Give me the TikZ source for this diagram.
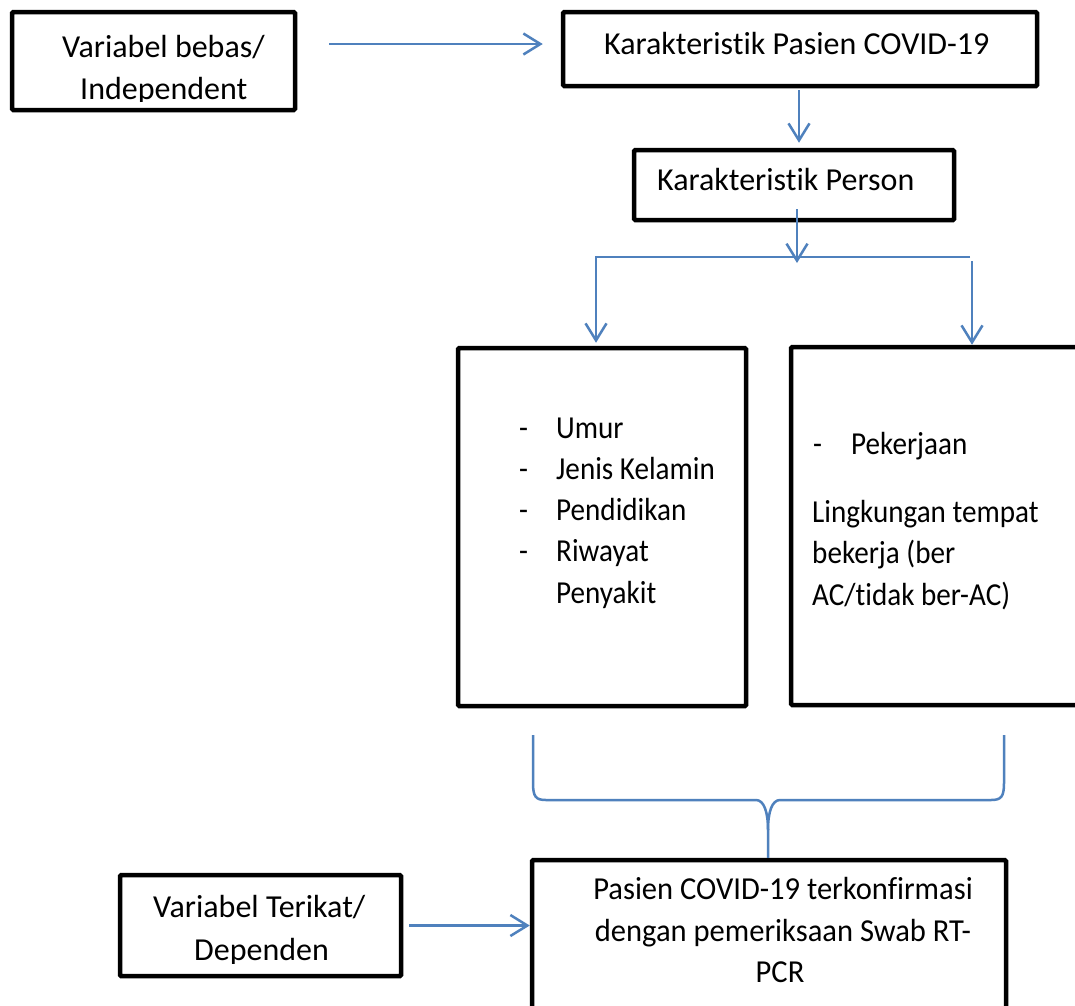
\documentclass[tikz,border=0pt]{standalone}
\usepackage{fontspec}
\setmainfont{Carlito}[Ligatures=NoCommon, RawFeature={-liga;-clig;-dlig;-calt}]
\newfontfamily\narrowfont{Carlito}[FakeStretch=0.91, Ligatures=NoCommon, RawFeature={-liga;-clig;-dlig;-calt}]
\newfontfamily\semifont{Carlito}[FakeStretch=0.955, Ligatures=NoCommon, RawFeature={-liga;-clig;-dlig;-calt}]
\usetikzlibrary{arrows.meta}
\definecolor{lineblue}{RGB}{79,129,189}
\tikzset{
  box/.style={draw=black, line width=4.5pt, rounded corners=1.2pt, inner sep=0pt},
  txt/.style={anchor=base west, inner sep=0pt, font=\fontsize{32}{40}\selectfont},
  ntxt/.style={anchor=base west, inner sep=0pt, font=\narrowfont\fontsize{32}{40}\selectfont},
  sctxt/.style={anchor=base, inner sep=0pt, font=\semifont\fontsize{32}{40}\selectfont},
  conn/.style={draw=lineblue, line width=2.5pt, -{Straight Barb[length=17pt,width=21pt,line width=2.5pt]}},
  plain/.style={draw=lineblue, line width=2.5pt},
}
\begin{document}
\begin{tikzpicture}[x=1pt,y=-1pt]
\clip (0,0) rectangle (1075,1005);
\fill[white] (0,0) rectangle (1075,1005);

% boxes
\node[box, minimum width=283pt, minimum height=98pt] (b1) at (153.5,61) {};
\node[box, minimum width=474pt, minimum height=74pt] (b2) at (800,49) {};
\node[box, minimum width=320pt, minimum height=70pt] (b3) at (794,185) {};
\node[box, minimum width=288pt, minimum height=358pt] (b4) at (602,527) {};
\node[box, minimum width=319pt, minimum height=358pt] (b5) at (950.5,526) {};
\node[box, minimum width=474pt, minimum height=200pt] (b6) at (769,960) {};
\node[box, minimum width=281pt, minimum height=101pt] (b7) at (260.5,925.5) {};

% texts
\node[txt] (t1a) at (62,57) {Variabel bebas/};
\begin{scope}
  \clip (0,0) rectangle (1075,101);
  \node[txt] (t1b) at (80,99) {Independent};
\end{scope}
\node[txt] (t2) at (604,54) {Karakteristik Pasien COVID-19};
\node[txt] (t3) at (657,190) {Karakteristik Person};

\node[ntxt] (d1) at (519,438) {-};
\node[ntxt] (l1) at (556,438) {Umur};
\node[ntxt] (d2) at (519,479) {-};
\node[ntxt] (l2) at (556,479) {Jenis Kelamin};
\node[ntxt] (d3) at (519,520) {-};
\node[ntxt] (l3) at (556,520) {Pendidikan};
\node[ntxt] (d4) at (519,561) {-};
\node[ntxt] (l4) at (556,561) {Riwayat};
\node[ntxt] (l5) at (556,603) {Penyakit};

\node[ntxt] (d5) at (813,454) {-};
\node[ntxt] (r1) at (851,454) {Pekerjaan};
\node[ntxt] (r2) at (812,522) {Lingkungan tempat};
\node[ntxt] (r3) at (812,563) {bekerja (ber};
\node[ntxt] (r4) at (812,605) {AC/tidak ber-AC)};

\node[sctxt] (p1) at (783,899) {Pasien COVID-19 terkonfirmasi};
\node[sctxt] (p2) at (783,941) {dengan pemeriksaan Swab RT-};
\node[sctxt] (p3) at (780,982) {PCR};

\node[txt] (v1) at (153,917) {Variabel Terikat/};
\begin{scope}
  \clip (0,0) rectangle (1075,963);
  \node[txt] (v2) at (194,960) {Dependen};
\end{scope}

% connectors
\draw[conn] ([xshift=32pt,yshift=17pt]b1.east) -- ([xshift=-18pt,yshift=5pt]b2.west);
\draw[conn] ([xshift=-1pt,yshift=-2pt]b2.south) -- ([xshift=5pt,yshift=5pt]b3.north);
\coordinate (fork) at (797,257);
\coordinate (fl) at (596,257);
\coordinate (fr) at (970,257);
\coordinate (frd) at (972,261);
\draw[conn] ([xshift=3pt,yshift=13pt]b3.south) -- ([yshift=-6pt]fork);
\draw[conn, shorten >=3pt] (fr) -- (fl) -- (fl |- b4.north);
\draw[conn] (frd) -- (frd |- b5.north);
\draw[conn] ([xshift=6pt]b7.east) -- (b7.east -| b6.west);

% brace
\coordinate (brL) at (533,735);
\coordinate (brR) at (1004,735);
\coordinate (brM) at (768,830);
\draw[plain] (brL) -- (533,783) .. controls (533,797) and (536,800) .. (546,800) -- (756,800) .. controls (764,800) and (768,812) .. (brM) -- (brM |- b6.north);
\draw[plain] (brR) -- (1004,783) .. controls (1004,797) and (1001,800) .. (991,800) -- (780,800) .. controls (772,800) and (768,812) .. (brM);
\end{tikzpicture}
\end{document}
